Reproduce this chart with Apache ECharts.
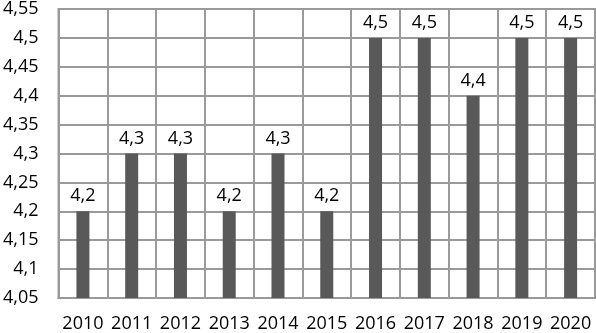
<!DOCTYPE html>
<html>
<head>
<meta charset="utf-8">
<script src="https://cdn.jsdelivr.net/npm/echarts@6/dist/echarts.min.js"></script>
<style>html,body{margin:0;padding:0;background:#fff;}#c{width:596px;height:333px;}</style>
</head>
<body>
<div id="c"></div>
<script>
var categories = ['2010','2011','2012','2013','2014','2015','2016','2017','2018','2019','2020'];
var values = [4.2, 4.3, 4.3, 4.2, 4.3, 4.2, 4.5, 4.5, 4.4, 4.5, 4.5];
var yMin = 4.05, yMax = 4.55, yStep = 0.05;

function fmt(v){ return String(Number(v.toFixed(2))).replace('.', ','); }

var chart = echarts.init(document.getElementById('c'), null, {renderer:'canvas'});
chart.setOption({
  animation: false,
  textStyle: {fontFamily: 'Open Sans'},
  grid: {left: 56, right: 1, top: 7, bottom: 34, show: true, borderColor: '#9a9a9a', borderWidth: 2, backgroundColor: 'transparent'},
  xAxis: {
    type: 'category', data: categories,
    axisLine: {show: true, lineStyle: {color: '#9a9a9a', width: 2}},
    axisTick: {show: false, interval: 0},
    splitLine: {show: true, interval: 0, lineStyle: {color: '#9a9a9a', width: 2}},
    axisLabel: {interval: 0, color: '#000', fontSize: 18, fontFamily: 'Open Sans', margin: 17}
  },
  yAxis: {
    type: 'value', min: yMin, max: yMax, interval: yStep,
    axisLine: {show: false}, axisTick: {show: false},
    splitLine: {show: true, lineStyle: {color: '#9a9a9a', width: 2}},
    axisLabel: {color: '#000', fontSize: 18, fontFamily: 'Open Sans', margin: 20, formatter: fmt}
  },
  series: [{
    type: 'bar', data: values, barWidth: 13,
    itemStyle: {color: '#595959'},
    label: {show: true, position: 'top', distance: 6, color: '#000', fontSize: 18, fontFamily: 'Open Sans', formatter: function(p){ return fmt(p.value); }}
  }]
});
</script>
</body>
</html>
